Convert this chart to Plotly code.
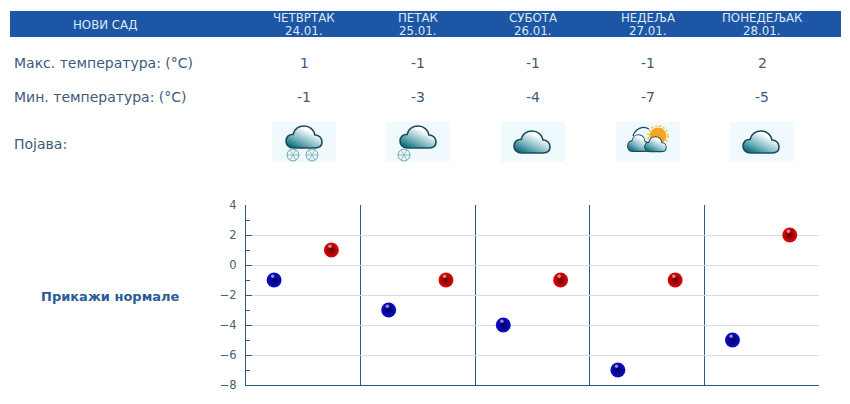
import base64
import plotly.graph_objects as go

W, H = 850, 404
# plot area in page pixels
L, R, T, B = 246, 819, 205, 385

city = 'НОВИ САД'
days = ['ЧЕТВРТАК', 'ПЕТАК', 'СУБОТА', 'НЕДЕЉА', 'ПОНЕДЕЉАК']
dates = ['24.01.', '25.01.', '26.01.', '27.01.', '28.01.']
temp_max = [1, -1, -1, -1, 2]
temp_min = [-1, -3, -4, -7, -5]
icons = ['snow2', 'snow1', 'cloud', 'sun', 'cloud']
col_centers = [304, 418, 533, 648, 762]
y_ticks = [4, 2, 0, -2, -4, -6, -8]


def px_x(x):
    return (x - L) / (R - L)


def px_y(y):
    return (B - y) / (B - T)


CLOUD = ('<path d="M9,23 C3,23 1,19 1,16 C1,12 4,9 8,9.5 C9,4 14,1 19,1 C25,1 29,5 30,10 '
         'C34,10 37,13 37,17 C37,21 34,23 30,23 Z" fill="url(#g)" stroke="#1c4c5c" stroke-width="1.6"/>')


def flake(cx, cy):
    s = f'<circle cx="{cx}" cy="{cy}" r="6" fill="#e6f4f6" stroke="#5f9ea6" stroke-width="0.9"/>'
    for d in ['M-6,0 L6,0', 'M-3,-5 L3,5', 'M3,-5 L-3,5']:
        s += f'<path transform="translate({cx},{cy})" d="{d}" stroke="#5f9ea6" stroke-width="0.6"/>'
    return s


def icon_src(kind):
    if kind == 'cloud':
        body = f'<g transform="translate(12,8)">{CLOUD}</g>'
    elif kind == 'snow1':
        body = f'<g transform="translate(13,3)">{CLOUD}</g>' + flake(18, 33)
    elif kind == 'snow2':
        body = f'<g transform="translate(13,3)">{CLOUD}</g>' + flake(21, 33) + flake(40, 33)
    else:
        body = ('<circle cx="42" cy="14" r="8.5" fill="#f5a623"/>'
                '<circle cx="42" cy="14" r="10" fill="none" stroke="#f7b84d" stroke-width="1.5" stroke-dasharray="2 2"/>'
                '<path d="M17,14 C19,7 27,3 33,7" fill="none" stroke="#1c4c5c" stroke-width="1.3"/>'
                f'<g transform="translate(11,12) scale(0.6,0.76)">{CLOUD}</g>'
                f'<g transform="translate(28,14) scale(0.6,0.68)">{CLOUD}</g>')
    svg = ('<svg xmlns="http://www.w3.org/2000/svg" width="64" height="40" viewBox="0 0 64 40">'
           '<defs><linearGradient id="g" x1="0.15" y1="0.95" x2="0.7" y2="0.25">'
           '<stop offset="0" stop-color="#0b6b7c"/><stop offset="0.45" stop-color="#7db8c2"/>'
           '<stop offset="1" stop-color="#ffffff"/></linearGradient></defs>'
           f'<rect width="64" height="40" fill="#f0f9fc"/>{body}</svg>')
    return 'data:image/svg+xml;base64,' + base64.b64encode(svg.encode()).decode()


def text(x, y, s, size=14, color='#3f5a78', anchor='center', bold=False):
    return dict(xref='paper', yref='paper', x=px_x(x), y=px_y(y), text=f'<b>{s}</b>' if bold else s,
                showarrow=False, xanchor=anchor, yanchor='middle', borderpad=0, borderwidth=0,
                font=dict(family='DejaVu Sans', size=size, color=color))


fig = go.Figure()

x_min = [i + 0.245 for i in range(len(days))]
x_max = [i + 0.745 for i in range(len(days))]

for xs, ys, c, edge in [(x_min, temp_min, '#0c0cd0', '#00005c'), (x_max, temp_max, '#e00808', '#6c0000')]:
    fig.add_trace(go.Scatter(x=xs, y=ys, mode='markers', cliponaxis=False, hoverinfo='skip',
                             marker=dict(size=15, color=c, line_width=0,
                                         gradient=dict(type='radial', color=edge))))
    # блик на шарике
    fig.add_trace(go.Scatter(x=[v - 0.012 for v in xs], y=[v + 0.25 for v in ys], mode='markers',
                             cliponaxis=False, hoverinfo='skip',
                             marker=dict(size=3.5, color='rgba(255,255,255,0.55)', line_width=0)))

annotations = [
    text(105, 25, city, size=11.8, color='#dfe8f2'),
    text(14, 63, 'Макс. температура: (°C)', anchor='left'),
    text(14, 97, 'Мин. температура: (°C)', anchor='left'),
    text(14, 143.5, 'Појава:', anchor='left'),
    text(110, 296, 'Прикажи нормале', size=13, color='#2b5c98', bold=True),
]
images = []
for i, cx in enumerate(col_centers):
    annotations.append(text(cx, 18, days[i], size=11.8, color='#dfe8f2'))
    annotations.append(text(cx, 31, dates[i], size=11.8, color='#dfe8f2'))
    annotations.append(text(cx, 63, str(temp_max[i])))
    annotations.append(text(cx, 97, str(temp_min[i])))
    images.append(dict(source=icon_src(icons[i]), xref='paper', yref='paper', x=px_x(cx - 32), y=px_y(122),
                       sizex=64 / (R - L), sizey=40 / (B - T), xanchor='left', yanchor='top',
                       sizing='stretch', layer='above'))

fig.update_layout(
    width=W, height=H, showlegend=False, plot_bgcolor='white', paper_bgcolor='white',
    margin=dict(l=L, r=W - R, t=T, b=H - B),
    annotations=annotations, images=images,
    shapes=[dict(type='rect', xref='paper', yref='paper', x0=px_x(10), x1=px_x(841), y0=px_y(37), y1=px_y(11),
                 fillcolor='#1d56a5', line_width=0, layer='below')],
    xaxis=dict(range=[0, 5], tick0=0, dtick=1, showticklabels=False, ticks='', zeroline=False,
               showgrid=True, gridcolor='#2f5a7f', gridwidth=1,
               showline=True, linecolor='#2f5a7f', linewidth=1, fixedrange=True),
    yaxis=dict(range=[-8, 4], tickvals=y_ticks, ticks='inside', ticklen=6, tickcolor='#2f5a7f', zeroline=False,
               showgrid=True, gridcolor='#d9dde0', gridwidth=1,
               showline=True, linecolor='#2f5a7f', linewidth=1, fixedrange=True, ticklabelstandoff=6,
               tickfont=dict(family='DejaVu Sans', size=11.5, color='#4a6076'),
               minor=dict(dtick=1, ticks='inside', ticklen=4, tickcolor='#2f5a7f', showgrid=False)),
)

fig.write_html("out.html", config={'displayModeBar': False},
               post_script="document.body.style.margin='0';")
